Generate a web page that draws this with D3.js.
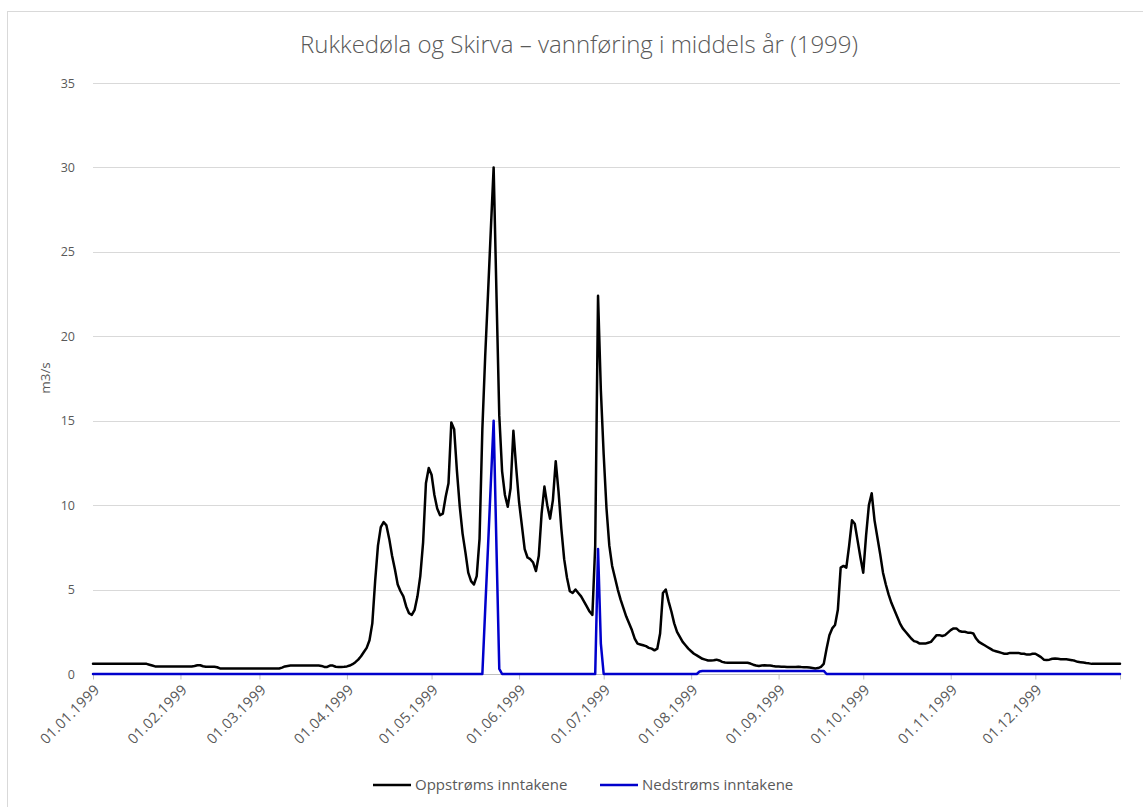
<!DOCTYPE html>
<html><head><meta charset="utf-8">
<script src="https://cdn.jsdelivr.net/npm/d3@7"></script>
<style>
html,body{margin:0;padding:0;background:#fff;}
svg{display:block;font-family:"Open Sans",sans-serif;}
</style></head>
<body><svg id="chart" width="1143" height="807"></svg>
<script>
const title = "Rukkedøla og Skirva – vannføring i middels år (1999)";
const yTitle = "m3/s";
const seriesNames = ["Oppstrøms inntakene", "Nedstrøms inntakene"];
const yTicks = [0, 5, 10, 15, 20, 25, 30, 35];
const monthTickLabels = ["01.01.1999","01.02.1999","01.03.1999","01.04.1999","01.05.1999","01.06.1999",
  "01.07.1999","01.08.1999","01.09.1999","01.10.1999","01.11.1999","01.12.1999"];
const startDate = "1999-01-01";

// Daily flow, upstream of intakes (m3/s), 1 Jan .. 31 Dec 1999
const oppstroms = [
  0.6,0.6,0.6,0.6,0.6,0.6,0.6,0.6,0.6,0.6,
  0.6,0.6,0.6,0.6,0.6,0.6,0.6,0.6,0.6,0.6,
  0.55,0.5,0.45,0.45,0.45,0.45,0.45,0.45,0.45,0.45,
  0.45,0.45,0.45,0.45,0.45,0.45,0.47,0.52,0.52,0.46,
  0.43,0.43,0.43,0.43,0.4,0.33,0.32,0.32,0.32,0.32,
  0.32,0.32,0.32,0.32,0.32,0.32,0.32,0.32,0.32,0.32,
  0.32,0.32,0.32,0.32,0.32,0.32,0.33,0.38,0.45,0.48,
  0.5,0.5,0.5,0.5,0.5,0.5,0.5,0.5,0.5,0.5,
  0.5,0.48,0.42,0.42,0.5,0.5,0.43,0.42,0.42,0.43,
  0.45,0.5,0.58,0.7,0.85,1.05,1.3,1.55,2.0,3.0,
  5.5,7.6,8.7,9.0,8.8,8.0,7.0,6.2,5.3,4.9,
  4.6,4.0,3.6,3.5,3.8,4.6,5.8,7.8,11.3,12.2,
  11.8,10.6,9.8,9.4,9.5,10.5,11.3,14.9,14.5,12.0,
  9.9,8.3,7.2,6.0,5.5,5.3,5.8,8.0,14.5,18.8,
  22.5,26.3,30.0,22.5,15.3,12.0,10.6,9.9,11.0,14.4,
  12.2,10.2,8.8,7.4,6.9,6.8,6.6,6.1,7.0,9.5,
  11.1,10.0,9.2,10.3,12.6,10.8,8.6,6.8,5.7,4.9,
  4.8,5.0,4.8,4.6,4.3,4.0,3.7,3.5,7.6,22.4,
  16.8,13.0,9.8,7.6,6.4,5.7,5.0,4.4,3.9,3.4,
  3.0,2.6,2.1,1.8,1.75,1.7,1.65,1.55,1.5,1.4,
  1.5,2.4,4.8,5.0,4.3,3.7,3.0,2.5,2.2,1.9,
  1.7,1.5,1.35,1.2,1.1,1.0,0.9,0.85,0.8,0.8,
  0.82,0.85,0.8,0.72,0.68,0.67,0.67,0.67,0.67,0.67,
  0.67,0.67,0.67,0.62,0.55,0.5,0.47,0.5,0.52,0.5,
  0.5,0.47,0.45,0.44,0.43,0.43,0.42,0.41,0.41,0.42,
  0.43,0.41,0.4,0.4,0.38,0.36,0.33,0.35,0.42,0.6,
  1.5,2.3,2.7,2.9,3.8,6.3,6.4,6.3,7.6,9.1,
  8.9,7.9,6.9,6.0,8.2,10.0,10.7,9.1,8.1,7.1,
  6.0,5.3,4.7,4.2,3.8,3.4,3.0,2.7,2.5,2.3,
  2.1,1.95,1.9,1.8,1.8,1.8,1.85,1.9,2.1,2.3,
  2.3,2.25,2.3,2.45,2.6,2.7,2.7,2.55,2.5,2.5,
  2.45,2.45,2.4,2.1,1.9,1.8,1.7,1.6,1.5,1.4,
  1.35,1.3,1.25,1.2,1.2,1.25,1.25,1.25,1.25,1.2,
  1.2,1.15,1.15,1.2,1.2,1.1,1.0,0.85,0.83,0.85,
  0.9,0.92,0.9,0.88,0.87,0.87,0.85,0.82,0.78,0.72,
  0.7,0.68,0.65,0.63,0.6,0.6,0.6,0.6,0.6,0.6,
  0.6,0.6,0.6,0.6,0.6
];

// Daily flow, downstream of intakes (m3/s)
const nedstroms = [
  0,0,0,0,0,0,0,0,0,0, 0,0,0,0,0,0,0,0,0,0,
  0,0,0,0,0,0,0,0,0,0, 0,0,0,0,0,0,0,0,0,0,
  0,0,0,0,0,0,0,0,0,0, 0,0,0,0,0,0,0,0,0,0,
  0,0,0,0,0,0,0,0,0,0, 0,0,0,0,0,0,0,0,0,0,
  0,0,0,0,0,0,0,0,0,0, 0,0,0,0,0,0,0,0,0,0,
  0,0,0,0,0,0,0,0,0,0, 0,0,0,0,0,0,0,0,0,0,
  0,0,0,0,0,0,0,0,0,0, 0,0,0,0,0,0,0,0,0,3.8,
  7.5,11.3,15.0,7.5,0.3,0,0,0,0,0, 0,0,0,0,0,0,0,0,0,0,
  0,0,0,0,0,0,0,0,0,0, 0,0,0,0,0,0,0,0,0,7.4,
  1.8,0,0,0,0,0,0,0,0,0, 0,0,0,0,0,0,0,0,0,0,
  0,0,0,0,0,0,0,0,0,0, 0,0,0,0,0,0.15,0.18,0.18,0.18,0.18,
  0.18,0.18,0.18,0.18,0.18,0.18,0.18,0.18,0.18,0.18, 0.18,0.18,0.18,0.18,0.18,0.18,0.18,0.18,0.18,0.18,
  0.18,0.18,0.18,0.18,0.18,0.18,0.18,0.18,0.18,0.18, 0.18,0.18,0.18,0.18,0.18,0.18,0.18,0.18,0.18,0.18,
  0,0,0,0,0,0,0,0,0,0, 0,0,0,0,0,0,0,0,0,0,
  0,0,0,0,0,0,0,0,0,0, 0,0,0,0,0,0,0,0,0,0,
  0,0,0,0,0,0,0,0,0,0, 0,0,0,0,0,0,0,0,0,0,
  0,0,0,0,0,0,0,0,0,0, 0,0,0,0,0,0,0,0,0,0,
  0,0,0,0,0,0,0,0,0,0, 0,0,0,0,0,0,0,0,0,0,
  0,0,0,0,0
];

const svg = d3.select("#chart");
const parse = d3.timeParse("%Y-%m-%d");
const t0 = parse(startDate);
const dates = oppstroms.map((_, i) => d3.timeDay.offset(t0, i));

const x = d3.scaleTime().domain([dates[0], dates[dates.length - 1]]).range([93, 1120]);
const y = d3.scaleLinear().domain([0, 35]).range([674, 83]);

// chart border
svg.append("rect").attr("x", 7.5).attr("y", 11.5).attr("width", 1200).attr("height", 900)
  .attr("fill", "none").attr("stroke", "#d9d9d9").attr("stroke-width", 1);

// gridlines
svg.append("g").attr("class", "grid")
  .selectAll("line").data(yTicks.filter(v => v > 0)).join("line")
  .attr("x1", 93).attr("x2", 1120)
  .attr("y1", d => Math.round(y(d)) + 0.5).attr("y2", d => Math.round(y(d)) + 0.5)
  .attr("stroke", "#d9d9d9").attr("stroke-width", 1);

// y axis labels
const yAxis = d3.axisLeft(y).tickValues(yTicks).tickSize(0).tickPadding(18);
const gy = svg.append("g").attr("transform", "translate(93,0)").call(yAxis);
gy.select(".domain").remove();
gy.selectAll("text").attr("fill", "#595959").attr("font-size", 12.5)
  .attr("font-family", "'Open Sans', sans-serif");

// x axis
const monthDates = monthTickLabels.map(s => d3.timeParse("%d.%m.%Y")(s));
const tickDates = monthDates.concat([dates[dates.length - 1]]);
const xAxis = d3.axisBottom(x).tickValues(tickDates).tickSize(5).tickFormat("");
const gx = svg.append("g").attr("transform", "translate(0,674.5)").call(xAxis);
gx.select(".domain").attr("stroke", "#bfbfbf").attr("d", "M93,0H1120");
gx.selectAll(".tick line").attr("stroke", "#bfbfbf");
svg.append("g").selectAll("text").data(monthDates).join("text")
  .attr("transform", (d) => `translate(${x(d) + 4},${687}) rotate(-45)`)
  .attr("text-anchor", "end").attr("dy", "0.35em")
  .attr("fill", "#595959").attr("font-size", 14.5).attr("letter-spacing", 0.3)
  .text((d, i) => monthTickLabels[i]);

// y title
svg.append("text").attr("transform", "translate(50,378) rotate(-90)")
  .attr("text-anchor", "middle").attr("fill", "#595959").attr("font-size", 13.5)
  .text(yTitle);

// title
svg.append("text").attr("x", 579).attr("y", 53).attr("text-anchor", "middle")
  .attr("fill", "#595959").attr("font-size", 24).attr("font-weight", 300)
  .text(title);

// lines
const line = d3.line().x((d, i) => x(dates[i])).y(d => y(d));
svg.append("path").datum(oppstroms).attr("d", line)
  .attr("fill", "none").attr("stroke", "#000").attr("stroke-width", 2.5)
  .attr("stroke-linejoin", "round").attr("stroke-linecap", "round");
svg.append("path").datum(nedstroms).attr("d", line)
  .attr("fill", "none").attr("stroke", "#0000cc").attr("stroke-width", 2.5)
  .attr("stroke-linejoin", "round").attr("stroke-linecap", "round");

// legend
const legendColors = ["#000", "#0000cc"];
const legendX = [373, 600];
const lg = svg.append("g");
seriesNames.forEach((name, i) => {
  lg.append("line").attr("x1", legendX[i]).attr("x2", legendX[i] + 38)
    .attr("y1", 785).attr("y2", 785).attr("stroke", legendColors[i]).attr("stroke-width", 2.5);
  lg.append("text").attr("x", legendX[i] + 42).attr("y", 785).attr("dy", "0.35em")
    .attr("fill", "#595959").attr("font-size", 15).text(name);
});
</script></body></html>
